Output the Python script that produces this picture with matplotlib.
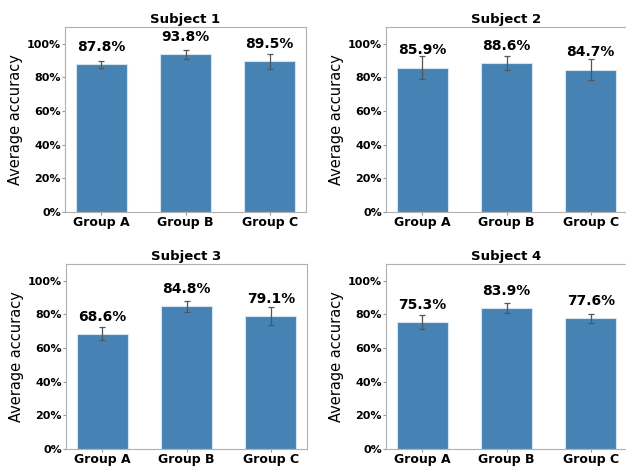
import numpy as np
import matplotlib
matplotlib.use("Agg")
import matplotlib.pyplot as plt
from matplotlib.ticker import PercentFormatter

groups = ["Group A", "Group B", "Group C"]
subjects = ["Subject 1", "Subject 2", "Subject 3", "Subject 4"]

# mean accuracy per group for each subject
acc_s1 = [0.878, 0.938, 0.895]
acc_s2 = [0.859, 0.886, 0.847]
acc_s3 = [0.686, 0.848, 0.791]
acc_s4 = [0.753, 0.839, 0.776]

# standard deviation across runs
std_s1 = [0.020, 0.026, 0.047]
std_s2 = [0.066, 0.043, 0.060]
std_s3 = [0.038, 0.032, 0.052]
std_s4 = [0.042, 0.031, 0.024]

accs = [acc_s1, acc_s2, acc_s3, acc_s4]
stds = [std_s1, std_s2, std_s3, std_s4]

W, H = 626, 466
fig = plt.figure(figsize=(W / 100, H / 100), dpi=100)

# panel boxes in pixels: left, top
boxes = [(65, 27), (386, 27), (66, 264), (386, 264)]
aw, ah = 241, 185

x = np.arange(len(groups))

for (left, top), title, acc, std in zip(boxes, subjects, accs, stds):
    ax = fig.add_axes([left / W, (H - top - ah) / H, aw / W, ah / H])
    ax.bar(x, acc, 0.6, color="#4682b4", edgecolor="#d6e4f0", linewidth=0.8,
           yerr=std, capsize=2.5,
           error_kw=dict(ecolor="#555555", elinewidth=0.9, capthick=0.9))
    for xi, v in zip(x, acc):
        ax.text(xi, v + 0.06, f"{v * 100:.1f}%", ha="center", va="bottom",
                fontsize=10, fontweight="bold")
    ax.set_ylim(0, 1.1)
    ax.set_xticks(x)
    ax.set_xticklabels(groups, fontsize=9, fontweight="bold")
    ax.set_yticks(np.arange(0, 1.01, 0.2))
    ax.yaxis.set_major_formatter(PercentFormatter(1.0, decimals=0))
    for lab in ax.get_yticklabels():
        lab.set_fontweight("bold")
        lab.set_fontsize(8)
    ax.tick_params(length=2, color="#999999", pad=1)
    ax.set_ylabel("Average accuracy", fontsize=10.5, labelpad=3)
    ax.set_title(title, fontsize=9.5, fontweight="bold", pad=3)
    for sp in ax.spines.values():
        sp.set_color("#b0b0b0")

fig.savefig("out.png", dpi=100)
